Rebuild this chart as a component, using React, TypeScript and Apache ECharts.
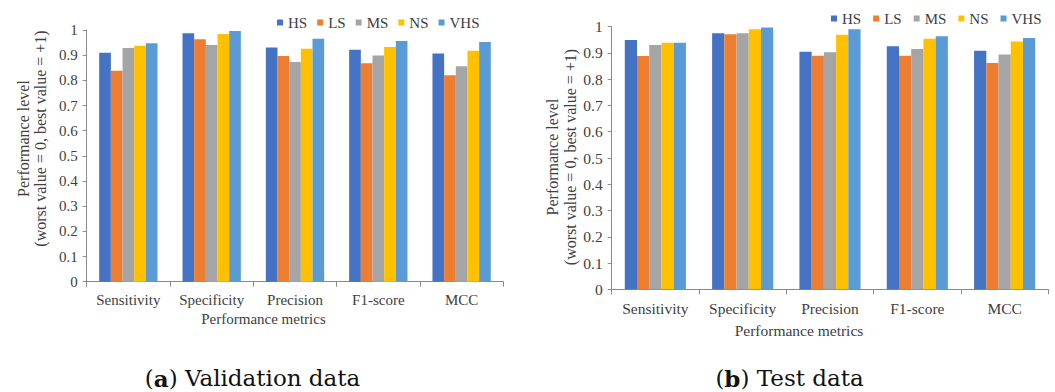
import React, { useEffect, useRef } from "react";
import * as echarts from "echarts";

const categories = ["Sensitivity", "Specificity", "Precision", "F1-score", "MCC"];
const seriesNames = ["HS", "LS", "MS", "NS", "VHS"];
const colors = ["#4472C4", "#ED7D31", "#A5A5A5", "#FFC000", "#5B9BD5"];

// Validation data (a)
const valHS = [0.91, 0.987, 0.93, 0.922, 0.907];
const valLS = [0.838, 0.963, 0.897, 0.868, 0.82];
const valMS = [0.928, 0.94, 0.873, 0.899, 0.856];
const valNS = [0.937, 0.984, 0.926, 0.932, 0.918];
const valVHS = [0.947, 0.996, 0.965, 0.956, 0.952];

// Test data (b)
const testHS = [0.949, 0.975, 0.905, 0.926, 0.908];
const testLS = [0.888, 0.971, 0.889, 0.889, 0.862];
const testMS = [0.93, 0.975, 0.903, 0.915, 0.894];
const testNS = [0.939, 0.99, 0.969, 0.954, 0.944];
const testVHS = [0.939, 0.997, 0.99, 0.964, 0.957];

const yTicksMin = 0;
const yTicksMax = 1;
const yTicksStep = 0.1;

const validation = [valHS, valLS, valMS, valNS, valVHS];
const test = [testHS, testLS, testMS, testNS, testVHS];

const FONT = "Liberation Serif";
const TXT = "#404040";
const AX = "#8a8a8a";

export default function App() {
  const ref = useRef<HTMLDivElement>(null);
  useEffect(() => {
    if (!ref.current) return;
    const chart = echarts.init(ref.current, undefined, { renderer: "svg" });

    const mkX = (gi: number, fs: number) => ({
      type: "category",
      gridIndex: gi,
      data: categories,
      axisLine: { show: true, lineStyle: { color: AX, width: 1 } },
      axisTick: { show: true, length: 5, lineStyle: { color: AX } },
      axisLabel: { color: TXT, fontFamily: FONT, fontSize: fs, margin: 11, interval: 0 },
      splitLine: { show: false },
    });
    const mkY = (gi: number, fs: number) => ({
      type: "value",
      gridIndex: gi,
      min: yTicksMin,
      max: yTicksMax,
      interval: yTicksStep,
      axisLine: { show: true, lineStyle: { color: AX, width: 1 } },
      axisTick: { show: true, length: 4, lineStyle: { color: AX } },
      axisLabel: {
        color: TXT,
        fontFamily: FONT,
        fontSize: fs,
        margin: 9,
        formatter: (v: number) => String(Number(v.toFixed(1))),
      },
      splitLine: { show: false },
    });

    const series: any[] = [];
    seriesNames.forEach((n, i) => {
      series.push({
        name: n,
        type: "bar",
        xAxisIndex: 0,
        yAxisIndex: 0,
        data: validation[i],
        itemStyle: { color: colors[i] },
        barGap: "0%",
        barCategoryGap: "30%",
      });
    });
    seriesNames.forEach((n, i) => {
      series.push({
        name: n,
        type: "bar",
        xAxisIndex: 1,
        yAxisIndex: 1,
        data: test[i],
        itemStyle: { color: colors[i] },
        barGap: "0%",
        barCategoryGap: "30%",
      });
    });

    const legendBase = {
      data: seriesNames,
      icon: "rect",
      itemWidth: 6,
      itemHeight: 6,
      padding: 0,
      textStyle: { color: TXT, fontFamily: FONT, fontSize: 15 },
      selectedMode: false,
    };

    const yTitle = (x: number, y: number, text: string) => ({
      type: "text",
      x,
      y,
      rotation: Math.PI / 2,
      style: {
        text,
        fill: TXT,
        fontFamily: FONT,
        fontSize: 16,
        align: "center",
        verticalAlign: "middle",
      },
    });
    const plainText = (x: number, y: number, text: string, size: number) => ({
      type: "text",
      x,
      y,
      style: {
        text,
        fill: TXT,
        fontFamily: FONT,
        fontSize: size,
        align: "center",
        verticalAlign: "middle",
      },
    });
    const caption = (x: number, y: number, letter: string, rest: string) => ({
      type: "text",
      x,
      y,
      style: {
        text: `{n|(}{b|${letter}}{n|) ${rest}}`,
        fill: "#111",
        fontFamily: "DejaVu Serif",
        fontSize: 23,
        align: "center",
        verticalAlign: "middle",
        rich: {
          n: { fontFamily: "DejaVu Serif", fontSize: 23, fill: "#111" },
          b: { fontWeight: "bold", fontFamily: "DejaVu Serif", fontSize: 23, fill: "#111" },
        },
      },
    });

    chart.setOption({
      animation: false,
      backgroundColor: "#ffffff",
      grid: [
        { left: 86.7, top: 30, width: 416.6, height: 251.7 },
        { left: 611.7, top: 26.7, width: 436.6, height: 262.6 },
      ],
      xAxis: [mkX(0, 15), mkX(1, 15.5)],
      yAxis: [mkY(0, 15), mkY(1, 15.5)],
      legend: [
        { ...legendBase, left: 277, top: 15, itemGap: 10 },
        { ...legendBase, left: 831, top: 11, itemGap: 12 },
      ],
      series,
      graphic: [
        yTitle(23, 138.5, "Performance level"),
        yTitle(40, 138.5, "(worst value = 0, best value = +1)"),
        yTitle(552, 157, "Performance level"),
        yTitle(570, 157, "(worst value = 0, best value = +1)"),
        plainText(263.5, 319, "Performance metrics", 15),
        plainText(799, 330, "Performance metrics", 15.5),
        caption(252.5, 378, "a", "Validation data"),
        caption(789.5, 378, "b", "Test data"),
      ],
    });
    return () => chart.dispose();
  }, []);
  return (
    <div
      ref={ref}
      style={{ position: "absolute", left: 0, top: 0, width: 1055, height: 392 }}
    />
  );
}
